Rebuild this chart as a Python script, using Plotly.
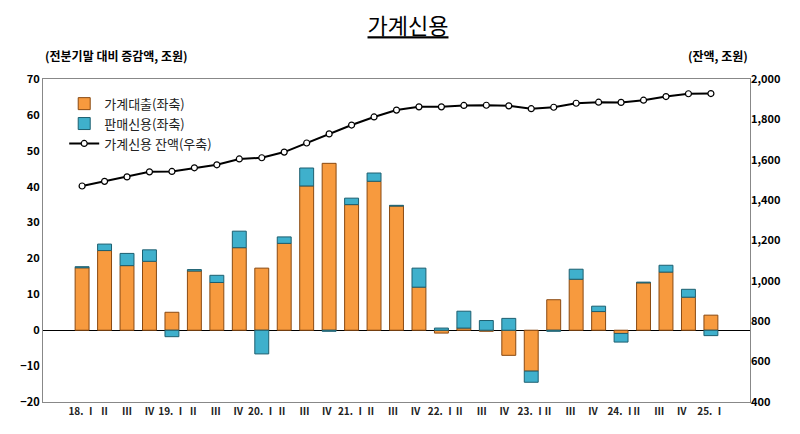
import plotly.graph_objects as go

cats = ["18. Ⅰ","Ⅱ","Ⅲ","Ⅳ","19. Ⅰ","Ⅱ ","Ⅲ ","Ⅳ ","20. Ⅰ","Ⅱ  ","Ⅲ  ","Ⅳ  ","21. Ⅰ","Ⅱ   ","Ⅲ   ","Ⅳ   ",
        "22. Ⅰ","Ⅱ    ","Ⅲ    ","Ⅳ    ","23. Ⅰ","Ⅱ     ","Ⅲ     ","Ⅳ     ","24. Ⅰ","Ⅱ      ","Ⅲ      ","Ⅳ      ","25. Ⅰ"]
loans = [17.4,22.2,18.0,19.2,5.0,16.5,13.3,23.0,17.3,24.2,40.2,46.5,35.0,41.5,34.6,12.0,
         -0.8,0.6,-0.3,-7.0,-11.4,8.5,14.2,5.2,-0.9,13.2,16.2,9.2,4.2]
credit = [0.3,1.8,3.4,3.2,-1.8,0.4,2.0,4.6,-6.6,1.8,5.0,-0.3,1.8,2.3,0.2,5.3,
          0.6,4.7,2.7,3.3,-3.1,-0.3,2.8,1.5,-2.4,0.2,1.9,2.2,-1.5]
balance = [1470,1493,1515,1540,1542,1560,1575,1604,1610,1638,1683,1728,1772,1812,1846,1862,
           1862,1869,1870,1867,1853,1860,1880,1885,1884,1895,1913,1927,1928]

font = "Noto Sans CJK KR"
fig = go.Figure()
fig.add_bar(x=cats, y=loans, name="가계대출(좌축)", marker=dict(color="#f79a3e", line=dict(color="#8a4a12", width=1)), width=0.62)
fig.add_bar(x=cats, y=credit, name="판매신용(좌축)", marker=dict(color="#3fb0cc", line=dict(color="#1d5f70", width=1)), width=0.62)
fig.add_scatter(x=cats, y=balance, name="가계신용 잔액(우축)", yaxis="y2", mode="lines+markers",
                line=dict(color="black", width=2), marker=dict(color="white", size=6, line=dict(color="black", width=1.2)))

fig.update_layout(
    width=800, height=434, barmode="relative", bargap=0.38,
    paper_bgcolor="white", plot_bgcolor="white",
    margin=dict(l=31, r=58, t=71, b=40),
    font=dict(family=font, size=11, color="black"),
    title=dict(text="<u>가계신용</u>", x=0.5, y=0.975, xanchor="center", font=dict(size=22, family=font)),
    xaxis=dict(showline=True, linecolor="#888", mirror=True, tickfont=dict(size=10, family=font, color="#222"), tickangle=0, ticks="",
               tickprefix="<b>", ticksuffix="</b>"),
    yaxis=dict(range=[-20,70], dtick=10, showgrid=False, showline=True, linecolor="#888", mirror=True,
               zeroline=True, zerolinecolor="black", zerolinewidth=1, tickfont=dict(size=11, family=font),
               tickprefix="<b>", ticksuffix="</b>"),
    yaxis2=dict(range=[400,2000], dtick=200, overlaying="y", side="right", showgrid=False, tickformat=",",
                tickfont=dict(size=11, family=font), tickprefix="<b>", ticksuffix="</b>"),
    legend=dict(x=0.03, y=0.97, bgcolor="rgba(0,0,0,0)", font=dict(size=13, family=font, color="#222"), tracegroupgap=10),
    annotations=[
        dict(text="<b>(전분기말 대비 증감액, 조원)</b>", x=0, xref="paper", xanchor="left", y=1.04, yref="paper", yanchor="bottom", showarrow=False, font=dict(size=12)),
        dict(text="<b>(잔액, 조원)</b>", x=1.0, xref="paper", xanchor="right", y=1.04, yref="paper", yanchor="bottom", showarrow=False, font=dict(size=12)),
    ],
)
fig.write_html("out.html")
